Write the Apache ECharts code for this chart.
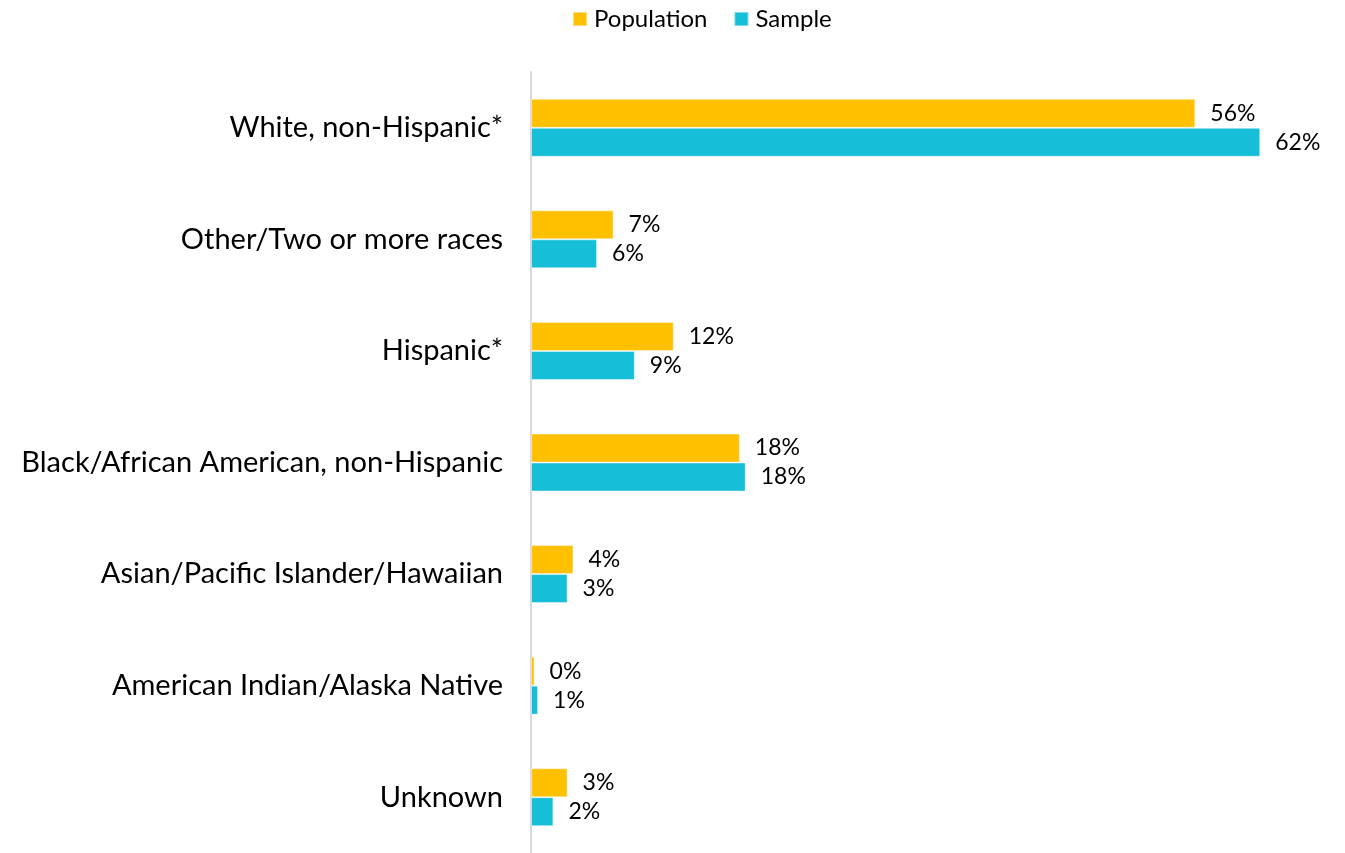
<!DOCTYPE html>
<html>
<head>
<meta charset="utf-8">
<title>Race/Ethnicity: Population vs Sample</title>
<script src="https://cdn.jsdelivr.net/npm/echarts@6/dist/echarts.min.js"></script>
<style>
  html, body { margin: 0; padding: 0; background: #ffffff; }
  #chart { width: 1345px; height: 853px; }
</style>
</head>
<body>
<div id="chart"></div>
<script>
// Race/ethnicity groups, top to bottom
const categories = [
  'White, non-Hispanic*',
  'Other/Two or more races',
  'Hispanic*',
  'Black/African American, non-Hispanic',
  'Asian/Pacific Islander/Hawaiian',
  'American Indian/Alaska Native',
  'Unknown'
];

// Share of each group (percent)
const population = [56.3, 7.0, 12.1, 17.7, 3.6, 0.3, 3.1];
const sample     = [61.8, 5.6, 8.8, 18.2, 3.1, 0.6, 1.9];

const seriesNames = ['Population', 'Sample'];
const colors = ['#FFC000', '#17BED8'];
const FONT = 'Lato, "DejaVu Sans", sans-serif';

const chart = echarts.init(document.getElementById('chart'));

const pctLabel = {
  show: true,
  position: 'right',
  distance: 15,
  color: '#000000',
  fontFamily: FONT,
  fontSize: 23,
  formatter: p => Math.round(p.value) + '%'
};

chart.setOption({
  animation: false,
  backgroundColor: '#ffffff',
  color: colors,
  legend: {
    data: seriesNames,
    left: 567,
    top: 2,
    itemWidth: 14,
    itemHeight: 14,
    itemGap: 26,
    icon: 'rect',
    textStyle: { fontFamily: FONT, fontSize: 24, color: '#000000', padding: [0, 0, 0, 2] }
  },
  grid: {
    left: 531,
    top: 72,
    width: 767,
    height: 786,
    containLabel: false
  },
  xAxis: {
    type: 'value',
    min: 0,
    max: 65,
    show: false,
    splitLine: { show: false }
  },
  yAxis: {
    type: 'category',
    data: categories,
    inverse: true,
    axisLine: { show: true, lineStyle: { color: '#d9d9d9', width: 2 } },
    axisTick: { show: false },
    axisLabel: {
      margin: 28,
      color: '#000000',
      fontFamily: FONT,
      fontSize: 29
    }
  },
  series: [
    {
      name: seriesNames[0],
      type: 'bar',
      data: population,
      barWidth: 29,
      barGap: '0%',
      itemStyle: { color: colors[0], borderColor: 'rgba(255,255,255,0.45)', borderWidth: 1 },
      label: pctLabel
    },
    {
      name: seriesNames[1],
      type: 'bar',
      data: sample,
      barWidth: 29,
      barGap: '0%',
      itemStyle: { color: colors[1], borderColor: 'rgba(255,255,255,0.45)', borderWidth: 1 },
      label: pctLabel
    }
  ]
});
</script>
</body>
</html>
